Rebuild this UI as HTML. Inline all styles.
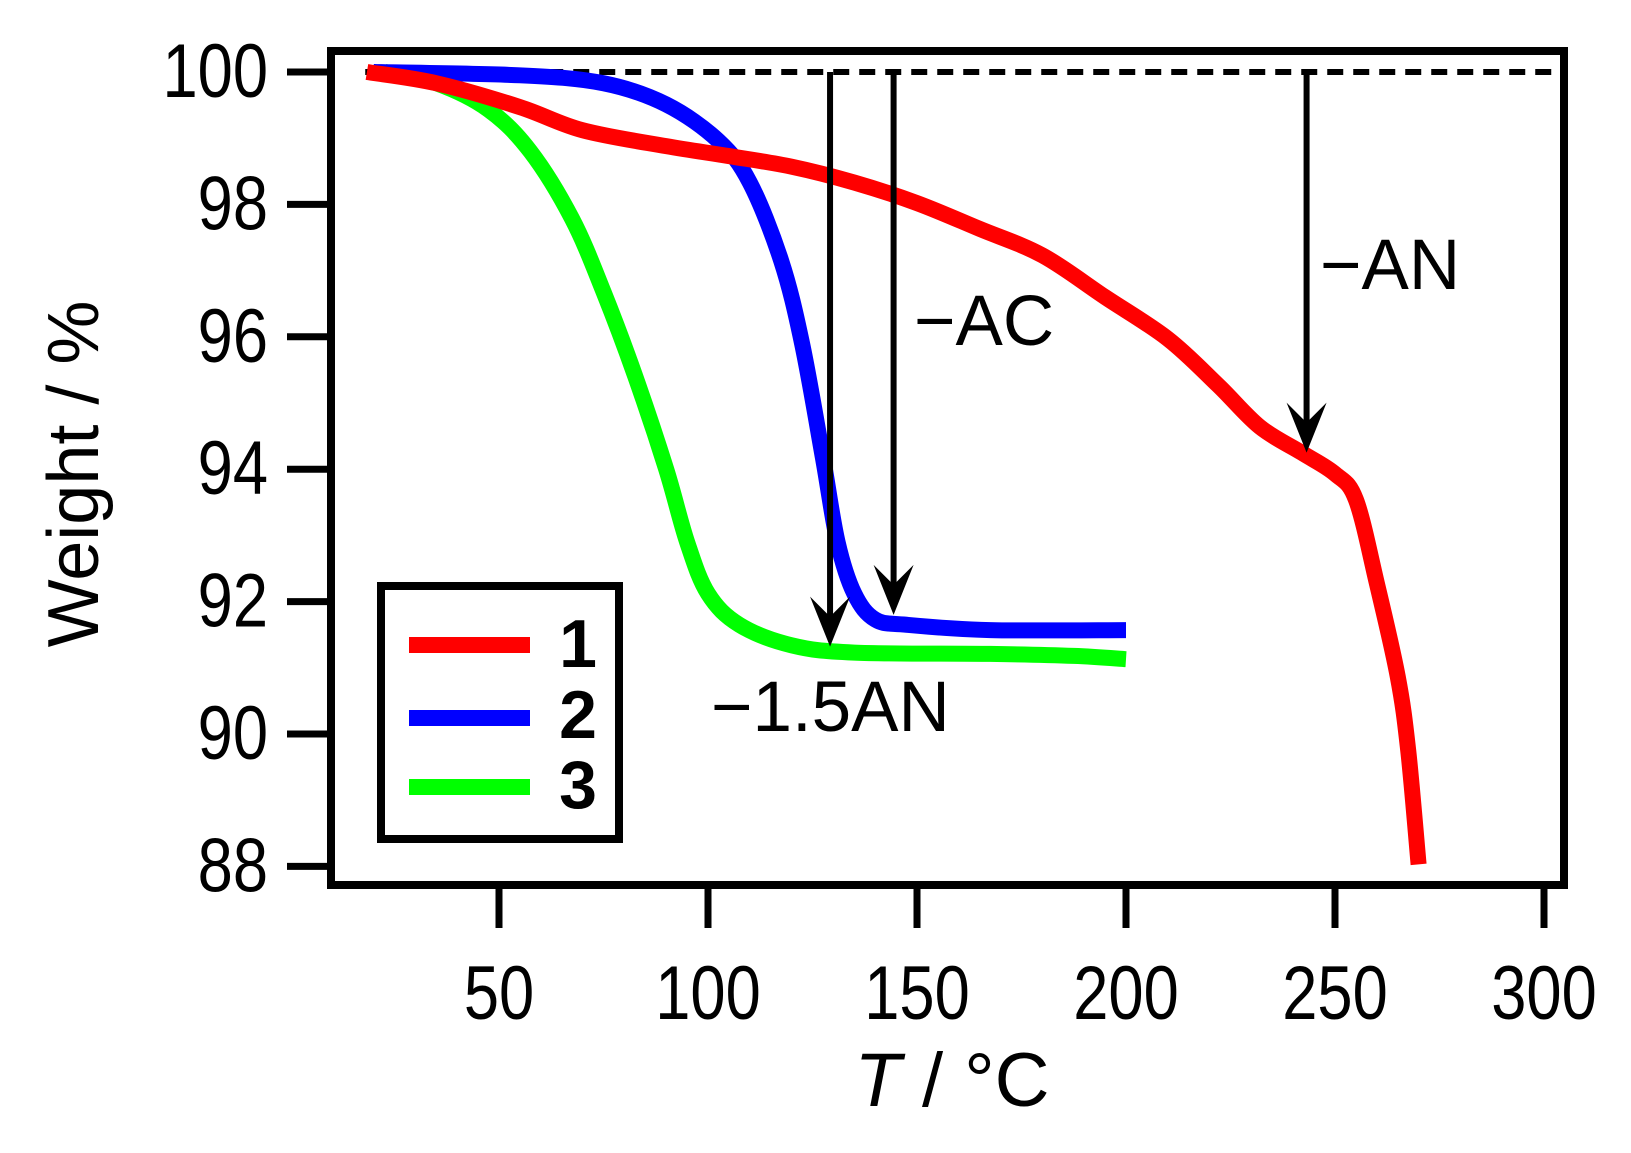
<!DOCTYPE html>
<html><head><meta charset="utf-8"><style>
body{margin:0;background:#fff}
svg{display:block}
text{font-family:"Liberation Sans",sans-serif;fill:#000}
</style></head><body>
<svg width="1631" height="1153" viewBox="0 0 1631 1153">
<g id="plot"></g>
</svg>
<script>
const xTicks=[50,100,150,200,250,300];
const yTicks=[88,90,92,94,96,98,100];
const s1T=[18.4,35,55,70,90,105,120,135,150,165,180,195,210,222,232,242,250,255,260,265,267.5,270];
const s1W=[100,99.83,99.47,99.12,98.88,98.73,98.57,98.33,98.02,97.63,97.23,96.6,95.97,95.27,94.64,94.25,93.93,93.54,92.28,90.87,89.76,88.03];
const s2T=[20,55,75,90,102.5,110,117.5,122.5,127.5,131,135,140,147.5,167.5,200];
const s2W=[100,99.95,99.83,99.51,98.96,98.33,97.15,95.9,94.17,92.9,92.12,91.73,91.65,91.57,91.57];
const s3T=[22.6,35,47.5,57.5,67.5,75,82.5,90,95,100,107.5,120,135,167.5,187.5,200];
const s3W=[100,99.83,99.43,98.8,97.78,96.68,95.42,94.0,92.9,92.12,91.65,91.34,91.23,91.21,91.18,91.13];
const arrowT=[129.2,144.4,243.2];
const arrowW=[91.32,91.8,94.25];
const NS="http://www.w3.org/2000/svg";
const xs=t=>499+(t-50)*4.18;
const ys=w=>72+(100-w)*66.2;
const g=document.getElementById('plot');
function mk(tag,attrs,parent){const e=document.createElementNS(NS,tag);for(const k in attrs)e.setAttribute(k,attrs[k]);(parent||g).appendChild(e);return e;}
const fr=mk('rect',{x:331,y:51,width:1233,height:834,fill:'none',stroke:'#000','stroke-width':8});


yTicks.forEach(v=>{
 const l=mk('line',{x1:287,x2:331,y1:ys(v),y2:ys(v),stroke:'#000','stroke-width':7});
 
 
 const t=mk('text',{x:0,y:0,transform:`translate(268,${ys(v)+25}) scale(0.93,1.12)`,'text-anchor':'end','font-size':68});
 t.textContent=v;
 
 
});
xTicks.forEach(v=>{
 const l=mk('line',{x1:xs(v),x2:xs(v),y1:885,y2:928,stroke:'#000','stroke-width':7});
 
 
 const t=mk('text',{x:0,y:0,transform:`translate(${xs(v)},1019) scale(0.93,1.12)`,'text-anchor':'middle','font-size':68});
 t.textContent=v;
 
 
});
const dl=mk('line',{x1:xs(18),x2:1552,y1:ys(100),y2:ys(100),stroke:'#000','stroke-width':6,'stroke-dasharray':'16 10'});


function smoothPath(P){
 let d='M'+P[0][0]+','+P[0][1];
 for(let i=0;i<P.length-1;i++){
  const p0=P[i-1]||P[i],p1=P[i],p2=P[i+1],p3=P[i+2]||P[i+1];
  const c1=[p1[0]+(p2[0]-p0[0])/6,p1[1]+(p2[1]-p0[1])/6];
  const c2=[p2[0]-(p3[0]-p1[0])/6,p2[1]-(p3[1]-p1[1])/6];
  d+=` C${c1[0]},${c1[1]} ${c2[0]},${c2[1]} ${p2[0]},${p2[1]}`;
 }
 return d;
}
function series(T,W,col,name){
 const P=T.map((t,i)=>[xs(t),ys(W[i])]);
 const p=mk('path',{d:smoothPath(P),fill:'none',stroke:col,'stroke-width':16,'stroke-linejoin':'round'});
 
 
}
series(s3T,s3W,'#00ff00','series-3');
series(s2T,s2W,'#0000ff','series-2');
series(s1T,s1W,'#ff0000','series-1');
arrowT.forEach((t,i)=>{
 const x=xs(t),y=ys(arrowW[i]);
 const l=mk('line',{x1:x,x2:x,y1:ys(100),y2:y-25,stroke:'#000','stroke-width':6});
 
 
 const h=mk('polygon',{points:`${x-20},${y-50} ${x},${y-30} ${x+20},${y-50} ${x},${y}`,fill:'#000'});
 
 
});
</script>
<svg width="1631" height="1153" style="position:absolute;left:0;top:0">
<text x="914" y="345" font-size="71">−AC</text>
<text x="1320" y="289" font-size="71">−AN</text>
<text x="711" y="731" font-size="71">−1.5AN</text>
<text x="952" y="1106" font-size="76" text-anchor="middle"><tspan font-style="italic">T</tspan> / °C</text>
<text transform="translate(98,474) rotate(-90)" font-size="72" text-anchor="middle">Weight / %</text>
<g>
<rect x="381" y="586" width="238" height="253" fill="#fff" stroke="#000" stroke-width="8"/>
<line x1="409" x2="530" y1="645" y2="645" stroke="#ff0000" stroke-width="16"/>
<line x1="409" x2="530" y1="718" y2="718" stroke="#0000ff" stroke-width="16"/>
<line x1="409" x2="530" y1="787" y2="787" stroke="#00ff00" stroke-width="16"/>
<text x="578" y="667" font-size="68" font-weight="bold" text-anchor="middle">1</text>
<text x="578" y="738" font-size="68" font-weight="bold" text-anchor="middle">2</text>
<text x="578" y="808" font-size="68" font-weight="bold" text-anchor="middle">3</text>
</g>
</svg>
</body></html>
